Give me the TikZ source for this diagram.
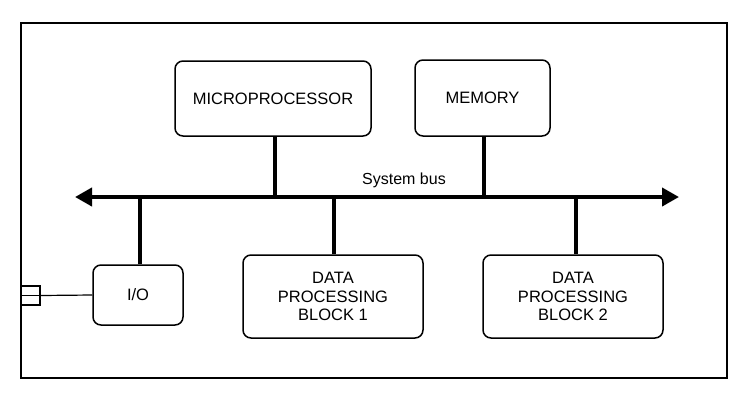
\documentclass[tikz,border=0pt]{standalone}
\usepackage{fontspec}
\setmainfont{Liberation Sans}
\usetikzlibrary{arrows.meta}
\begin{document}
\begin{tikzpicture}[x=1pt,y=-1pt,
  blk/.style={draw, line width=1.5pt, rounded corners=8pt, align=center,
    font=\fontsize{16.5}{18.5}\selectfont, inner sep=0pt},
  stub/.style={line width=3.8pt},
  bus/.style={line width=4pt, {Triangle[length=17pt,width=18pt]}-{Triangle[length=17pt,width=18pt]}},
  thin/.style={line width=1.2pt}]
\useasboundingbox (0,0) rectangle (744,405);
\draw[line width=2.4pt] (21,23) rectangle (727,378);
\node[blk, minimum width=196pt, minimum height=75pt] (micro) at (273,98.5) {MICROPROCESSOR};
\node[blk, minimum width=135pt, minimum height=76pt] (mem) at (482.5,98) {MEMORY};
\node[blk, minimum width=90pt, minimum height=60pt] (io) at (138,295) {I/O};
\node[blk, minimum width=180pt, minimum height=83pt] (dpb1) at (333,296.5) {DATA\\PROCESSING\\BLOCK 1};
\node[blk, minimum width=180pt, minimum height=83pt] (dpb2) at (573,296.5) {DATA\\PROCESSING\\BLOCK 2};
\coordinate (busL) at (75,197);
\coordinate (busR) at (679,197);
\draw[bus] (busL) -- (busR);
\node[font=\fontsize{16}{18}\selectfont] (lbl) at (404,180) {System bus};
\draw[stub] (micro.south -| 275,0) -- (275,197);
\draw[stub] (mem.south -| 484,0) -- (484,197);
\draw[stub] (io.north -| 140,0) -- (140,197);
\draw[stub] (dpb1.north -| 334,0) -- (334,197);
\draw[stub] (dpb2.north -| 576,0) -- (576,197);
\node[draw, thin, minimum width=19pt, minimum height=19pt, inner sep=0pt] (conn) at (30.5,295.5) {};
\draw[thin] (conn.west) -- (conn.east);
\draw[thin] (conn.east) -- (io.west);
\end{tikzpicture}
\end{document}
